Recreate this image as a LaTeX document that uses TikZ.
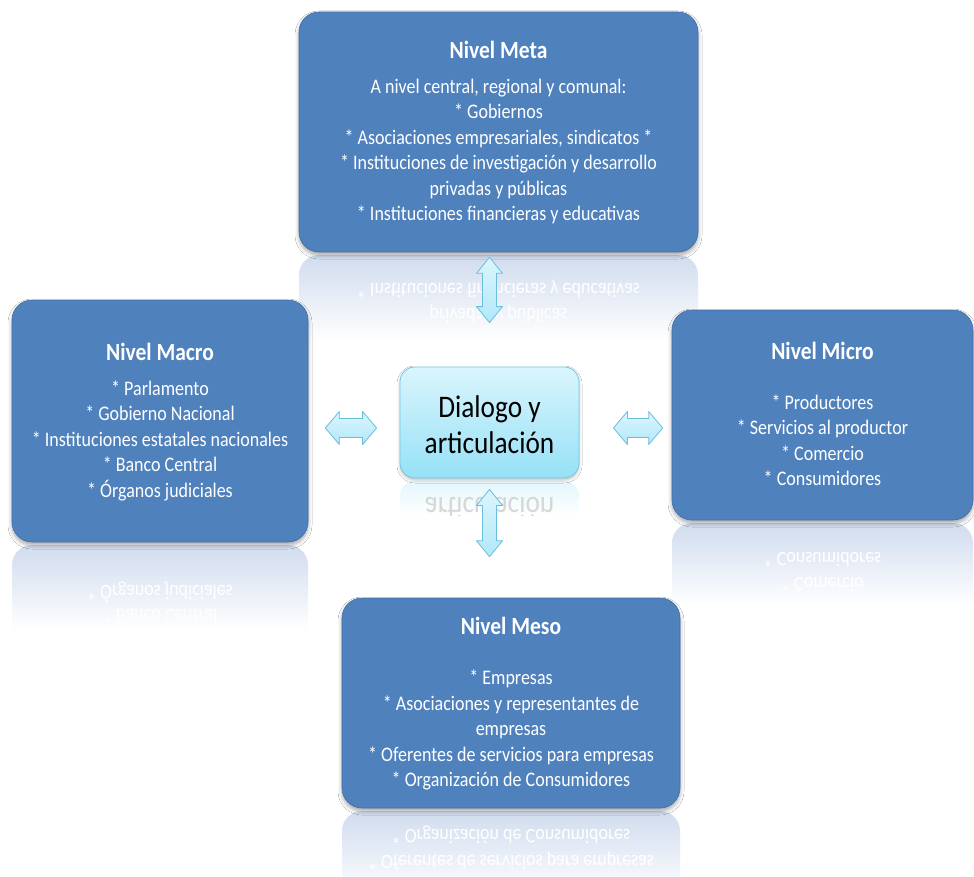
\documentclass[tikz,border=0pt]{standalone}
\usepackage{fontspec}
\setmainfont{Carlito}
\usepackage{graphicx}
\usetikzlibrary{calc,shadows.blur}
\definecolor{boxblue}{RGB}{79,129,189}
\definecolor{boxedge}{RGB}{66,111,168}
\definecolor{reflblue}{RGB}{180,198,228}
\definecolor{dlgtop}{RGB}{218,245,252}
\definecolor{dlgbot}{RGB}{150,225,247}
\definecolor{dlgedge}{RGB}{118,198,225}
\definecolor{dlgreflc}{RGB}{205,240,250}
\definecolor{arrfill}{RGB}{178,232,249}
\definecolor{arredge}{RGB}{104,190,220}
\pgfdeclareverticalshading{reflshade}{100bp}{color(0bp)=(white); color(30bp)=(white); color(70bp)=(reflblue!55!white); color(100bp)=(reflblue)}
\pgfdeclareverticalshading{dlgreflshade}{100bp}{color(0bp)=(white); color(40bp)=(white); color(100bp)=(dlgreflc)}
\newcommand\vst[1]{\scalebox{1}[1.15]{#1}}
\newcommand\mirr[1]{\scalebox{1}[-1.15]{#1}}
\tikzset{
  x=1pt, y=-1pt,
  lvlbox/.style={draw=boxedge, line width=0.6pt, fill=boxblue, rounded corners=20pt,
    inner sep=0pt, blur shadow={shadow xshift=0pt, shadow yshift=-3pt,
    shadow blur radius=4pt, shadow opacity=35}},
  dlgbox/.style={draw=dlgedge, line width=0.8pt, top color=dlgtop, bottom color=dlgbot,
    rounded corners=15pt, inner sep=0pt, minimum width=179pt, minimum height=111pt,
    blur shadow={shadow xshift=0pt, shadow yshift=-2pt, shadow blur radius=3pt, shadow opacity=25}},
  titletext/.style={text=white, inner sep=0pt, font=\fontsize{21.5}{26}\selectfont\bfseries},
  bodytext/.style={text=white, inner sep=0pt, font=\fontsize{18}{22.2}\selectfont},
  dlgtext/.style={text=black, inner sep=0pt, font=\fontsize{27.3}{31.3}\selectfont},
  mirrtext/.style={text=white, inner sep=0pt, font=\fontsize{18}{22.2}\selectfont},
  refl/.style={draw=none, shading=reflshade, rounded corners=20pt},
  dlgrefl/.style={draw=none, shading=dlgreflshade, rounded corners=15pt},
  arrow dims/.code args={#1/#2/#3}{\def\arH{#1}\def\arW{#2}\def\arS{#3}},
  blockarrow/.style={draw=arredge, line width=0.8pt, line join=round,
    top color=arrfill!45!white, bottom color=arrfill,
    to path={
      -- ($(\tikztostart)!\arH!(\tikztotarget)!\arW!90:(\tikztotarget)$)
      -- ($(\tikztostart)!\arH!(\tikztotarget)!\arS!90:(\tikztotarget)$)
      -- ($(\tikztotarget)!\arH!(\tikztostart)!\arS!-90:(\tikztostart)$)
      -- ($(\tikztotarget)!\arH!(\tikztostart)!\arW!-90:(\tikztostart)$)
      -- (\tikztotarget)
      -- ($(\tikztotarget)!\arH!(\tikztostart)!\arW!90:(\tikztostart)$)
      -- ($(\tikztotarget)!\arH!(\tikztostart)!\arS!90:(\tikztostart)$)
      -- ($(\tikztostart)!\arH!(\tikztotarget)!\arS!-90:(\tikztotarget)$)
      -- ($(\tikztostart)!\arH!(\tikztotarget)!\arW!-90:(\tikztotarget)$)
      -- cycle}},
  harrow/.style={blockarrow, arrow dims={14pt/16.5pt/9.5pt}},
  varrow/.style={blockarrow, arrow dims={16pt/13pt/7pt}}
}
\begin{document}
\begin{tikzpicture}
\path[use as bounding box, fill=white] (0,0) rectangle (974,877);

% reflections
\path[refl] (299,255) rectangle (698,350);
\node[mirrtext] (metar1) at (498.5,289) {\mirr{* Instituciones financieras y educativas}};
\node[mirrtext] (metar2) at (498.5,314) {\mirr{privadas y públicas}};
\path[refl] (12,545) rectangle (308,640);
\node[mirrtext] (macror1) at (160,592) {\mirr{* Órganos judiciales}};
\node[mirrtext] (macror2) at (160,617) {\mirr{* Banco Central}};
\path[refl] (672,523) rectangle (973,615);
\node[mirrtext] (micror1) at (822.5,560) {\mirr{* Consumidores}};
\node[mirrtext] (micror2) at (822.5,585) {\mirr{* Comercio}};
\path[refl] (342,811) rectangle (680,905);
\node[mirrtext] (mesor1) at (511,835) {\mirr{* Organización de Consumidores}};
\node[mirrtext] (mesor2) at (511,861) {\mirr{* Oferentes de servicios para empresas}};
\path[dlgrefl] (400,481) rectangle (579,530);
\begin{scope}
\clip (400,481) rectangle (579,515);
\node[dlgtext, text=black!16] (dlgr) at (489.5,508) {\mirr{articulación}};
\end{scope}

% boxes
\node[lvlbox, minimum width=399pt, minimum height=240pt] (meta) at (498.5,132) {};
\node[lvlbox, minimum width=296pt, minimum height=242pt] (macro) at (160,421) {};
\node[lvlbox, minimum width=301pt, minimum height=210pt] (micro) at (822.5,415) {};
\node[lvlbox, minimum width=338pt, minimum height=210pt] (meso) at (511,703) {};
\node[dlgbox] (dlg) at (489.5,422.5) {};

% texts
\node[titletext] (metat) at (498.5,50) {\vst{Nivel Meta}};
\node[bodytext] (metab) at (498.5,152) {\vst{\begin{tabular}{@{}c@{}}
A nivel central, regional y comunal:\\
{*} Gobiernos\\
{*} Asociaciones empresariales, sindicatos *\\
{*} Instituciones de investigación y desarrollo\\
privadas y públicas\\
{*} Instituciones financieras y educativas
\end{tabular}}};

\node[titletext] (macrot) at (160,352) {\vst{Nivel Macro}};
\node[bodytext] (macrob) at (160,441) {\vst{\begin{tabular}{@{}c@{}}
{*} Parlamento\\
{*} Gobierno Nacional\\
{*} Instituciones estatales nacionales\\
{*} Banco Central\\
{*} Órganos judiciales
\end{tabular}}};

\node[titletext] (microt) at (822.5,351) {\vst{Nivel Micro}};
\node[bodytext] (microb) at (822.5,442.5) {\vst{\begin{tabular}{@{}c@{}}
{*} Productores\\
{*} Servicios al productor\\
{*} Comercio\\
{*} Consumidores
\end{tabular}}};

\node[titletext] (mesot) at (511,626) {\vst{Nivel Meso}};
\node[bodytext] (mesob) at (511,730.5) {\vst{\begin{tabular}{@{}c@{}}
{*} Empresas\\
{*} Asociaciones y representantes de\\
empresas\\
{*} Oferentes de servicios para empresas\\
{*} Organización de Consumidores
\end{tabular}}};

\node[dlgtext] (dlgt) at (489.5,428) {\vst{\begin{tabular}{@{}c@{}}
Dialogo y\\
articulación
\end{tabular}}};

% arrow end points
\coordinate (tA) at ($(meta.south -| dlg.north)+(0,5)$);
\coordinate (tB) at ($(dlg.north)+(0,-44)$);
\coordinate (bA) at ($(dlg.south)+(0,11)$);
\coordinate (bB) at ($(meso.north -| dlg.south)+(0,-41)$);
\coordinate (lA) at ($(macro.east |- dlg.west)+(17,5.5)$);
\coordinate (lB) at ($(dlg.west)+(-23,5.5)$);
\coordinate (rA) at ($(dlg.east)+(34,5.5)$);
\coordinate (rB) at ($(micro.west |- dlg.east)+(-9,5.5)$);

\draw[varrow] (tA) to (tB);
\draw[varrow] (bA) to (bB);
\draw[harrow] (lA) to (lB);
\draw[harrow] (rA) to (rB);
\end{tikzpicture}
\end{document}
